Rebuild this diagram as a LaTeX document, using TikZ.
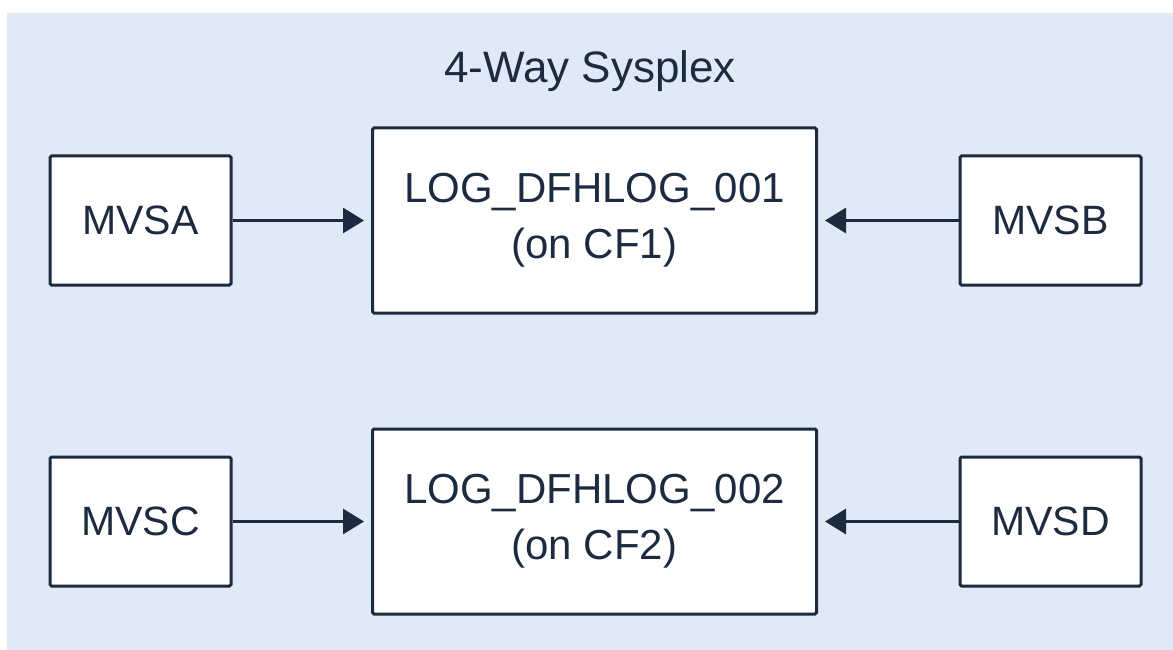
\documentclass[tikz,border=0pt]{standalone}
\usepackage{fontspec}
\setmainfont{Liberation Sans}
\usetikzlibrary{arrows.meta}
\definecolor{navy}{RGB}{28,43,64}
\definecolor{bgblue}{RGB}{224,234,246}
\tikzset{
  hostbox/.style={draw=navy, fill=white, line width=3pt, rounded corners=1.5pt, inner sep=0pt,
    minimum width=181pt, minimum height=129pt, text=navy, font=\fontsize{41}{50}\selectfont},
  logbox/.style={draw=navy, fill=white, line width=3pt, rounded corners=1.5pt, inner sep=0pt,
    minimum width=444pt, minimum height=185pt, text=navy, align=center,
    font=\fontsize{42}{56}\selectfont},
  conn/.style={draw=navy, line width=3pt, -{Triangle[length=21pt,width=25pt]}, shorten >=7pt}
}
\begin{document}
\begin{tikzpicture}[x=1pt,y=-1pt]
\useasboundingbox (0,0) rectangle (1173,650);
\fill[bgblue] (7,13) rectangle (1173,650);
\node[anchor=base, text=navy, font=\fontsize{44}{50}\selectfont] (title) at (590,82.7) {4-Way Sysplex};
\node[hostbox] (mvsa) at (140.5,220.5) {MVSA};
\node[hostbox] (mvsb) at (1050.5,220.5) {MVSB};
\node[hostbox] (mvsc) at (140.5,521.5) {MVSC};
\node[hostbox] (mvsd) at (1050.5,521.5) {MVSD};
\node[logbox] (log1) at (594.5,220.5) {LOG\_DFHLOG\_001\\(on CF1)};
\node[logbox] (log2) at (594.5,521.5) {LOG\_DFHLOG\_002\\(on CF2)};
\draw[conn] (mvsa) -- (log1);
\draw[conn] (mvsb) -- (log1);
\draw[conn] (mvsc) -- (log2);
\draw[conn] (mvsd) -- (log2);
\end{tikzpicture}
\end{document}
